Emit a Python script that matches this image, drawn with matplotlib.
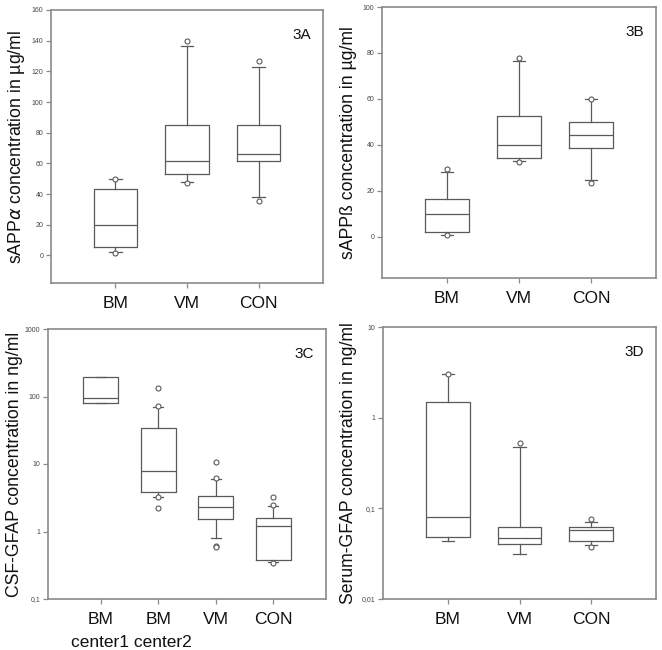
import matplotlib
matplotlib.use("Agg")
import matplotlib.pyplot as plt
from matplotlib.ticker import NullLocator

plt.rcParams['font.family'] = ['Liberation Sans', 'DejaVu Sans']

# --- data ---
groups_abd = ["BM", "VM", "CON"]
groups_c = ["BM", "BM", "VM", "CON"]
centers_c = "center1 center2"

# (q1, median, q3, lower whisker, upper whisker)
sappa_box = [(5.4, 20, 43.5, 2, 49.5), (53, 61.3, 85, 47.6, 136.7), (61.7, 66, 84.8, 37.8, 122.8)]
sappa_out = [[1.8, 50], [47.2, 139.6], [35.7, 126.5]]

sappb_box = [(2.0, 9.7, 16.5, 0.8, 28.3), (34.3, 39.7, 52.6, 32.8, 76.4), (38.8, 44.3, 49.9, 24.5, 60)]
sappb_out = [[0.7, 29.3], [32.6, 77.7], [23.3, 60]]

csf_box = [(79, 96, 197, 79, 197), (3.9, 7.8, 33.7, 3.3, 70), (1.51, 2.33, 3.4, 0.81, 6.0), (0.374, 1.22, 1.6, 0.35, 2.4)]
csf_out = [[], [3.2, 2.25, 73, 135], [0.62, 0.58, 6.1, 10.8], [0.34, 2.47, 3.28]]

serum_box = [(0.048, 0.081, 1.47, 0.0436, 3.0), (0.0404, 0.0466, 0.0616, 0.031, 0.477), (0.0436, 0.0575, 0.0616, 0.0394, 0.071)]
serum_out = [[3.06], [0.53], [0.0377, 0.0755]]

GRAY = "#5a5a5a"
FRAME = "#8a8a8a"

fig = plt.figure(figsize=(6.62, 6.5), dpi=100)


def boxpanel(rect, boxes, outs, labels, tag, ylabel, xlim, ylabel_x):
    ax = fig.add_axes(rect)
    stats = []
    for (q1, med, q3, lo, hi), fl in zip(boxes, outs):
        stats.append(dict(q1=q1, med=med, q3=q3, whislo=lo, whishi=hi, fliers=fl))
    pos = list(range(1, len(boxes) + 1))
    line = dict(color=GRAY, linewidth=0.9)
    ax.bxp(stats, positions=pos, widths=0.61, capwidths=0.17,
           boxprops=line, whiskerprops=line, capprops=line,
           medianprops=line,
           flierprops=dict(marker='o', markersize=3.6, markerfacecolor='white',
                           markeredgecolor=GRAY, markeredgewidth=0.8))
    ax.set_xlim(*xlim)
    ax.set_xticks(pos)
    ax.set_xticklabels(labels, fontsize=12.5, color="#111111")
    ax.tick_params(axis='x', length=3.5, width=0.9, color=FRAME, pad=6)
    ax.tick_params(axis='y', length=3.5, width=0.9, color=FRAME, labelsize=5,
                   labelcolor="#444444", pad=2)
    for s in ax.spines.values():
        s.set_color(FRAME)
        s.set_linewidth(1.2)
    ax.set_ylabel(ylabel, fontsize=12.7, color="#111111")
    ax.yaxis.set_label_coords(ylabel_x, 0.5)
    ax.text(0.955, 0.935, tag, transform=ax.transAxes, ha='right', va='top',
            fontsize=11, color="#111111")
    return ax


W, H = 662, 650


def rect(left, top, right, bottom):
    return [left / W, 1 - bottom / H, (right - left) / W, (bottom - top) / H]


ax = boxpanel(rect(51, 10, 323, 283), sappa_box, sappa_out, groups_abd, "3A",
              "sAPP$\\alpha$ concentration in µg/ml", (0.1, 3.9), -0.09)
ax.set_ylim(-18, 160)
ax.set_yticks(range(0, 161, 20))

ax = boxpanel(rect(382, 7, 656, 278), sappb_box, sappb_out, groups_abd, "3B",
              "sAPPß concentration in µg/ml", (0.1, 3.9), -0.09)
ax.set_ylim(-18, 100)
ax.set_yticks(range(0, 101, 20))

ax = boxpanel(rect(48, 329, 326, 599), csf_box, csf_out, groups_c, "3C",
              "CSF-GFAP concentration in ng/ml", (0.08, 4.92), -0.09)
ax.set_yscale('log')
ax.set_ylim(0.1, 1000)
ax.set_yticks([0.1, 1, 10, 100, 1000])
ax.set_yticklabels(["0,1", "1", "10", "100", "1000"])
ax.yaxis.set_minor_locator(NullLocator())
# second line under the two BM groups
ax.text(1.53, -0.135, centers_c, transform=ax.get_xaxis_transform(),
        ha='center', va='top', fontsize=12.5, color="#111111")

ax = boxpanel(rect(383, 327, 656, 599), serum_box, serum_out, groups_abd, "3D",
              "Serum-GFAP concentration in ng/ml", (0.1, 3.9), -0.095)
ax.set_yscale('log')
ax.set_ylim(0.01, 10)
ax.set_yticks([0.01, 0.1, 1, 10])
ax.set_yticklabels(["0,01", "0,1", "1", "10"])
ax.yaxis.set_minor_locator(NullLocator())

fig.savefig("out.png", dpi=100, facecolor="white")
